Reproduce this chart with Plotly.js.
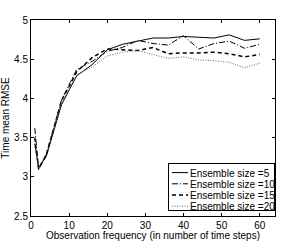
<!DOCTYPE html>
<html>
<head>
<meta charset="utf-8">
<script src="https://cdn.plot.ly/plotly-3.0.1.min.js"></script>
<style>html,body{margin:0;padding:0;background:#fff;}#chart{width:283px;height:241px;}</style>
</head>
<body>
<div id="chart"></div>
<script>
const obsFreq = [1, 2, 4, 8, 12, 16, 20, 24, 28, 32, 36, 40, 44, 48, 52, 56, 60];
const ens5  = [3.42, 3.12, 3.26, 3.92, 4.29, 4.43, 4.62, 4.69, 4.73, 4.77, 4.77, 4.79, 4.78, 4.77, 4.81, 4.74, 4.76];
const ens10 = [3.62, 3.09, 3.28, 3.98, 4.37, 4.47, 4.60, 4.65, 4.74, 4.70, 4.68, 4.80, 4.63, 4.70, 4.73, 4.64, 4.69];
const ens15 = [3.50, 3.10, 3.28, 3.97, 4.34, 4.52, 4.63, 4.62, 4.61, 4.65, 4.57, 4.58, 4.58, 4.59, 4.57, 4.53, 4.56];
const ens20 = [3.38, 3.12, 3.30, 3.95, 4.30, 4.40, 4.54, 4.59, 4.61, 4.56, 4.51, 4.53, 4.49, 4.48, 4.46, 4.39, 4.45];
const seriesNames = ['Ensemble size =5', 'Ensemble size =10', 'Ensemble size =15', 'Ensemble size =20'];
const xTicks = [0, 10, 20, 30, 40, 50, 60];
const yTicks = [2.5, 3, 3.5, 4, 4.5, 5];
const yTickText = ['2.5', '3', '3.5', '4', '4.5', '5'];

const font = {family: 'Liberation Sans, Arial, sans-serif', size: 10, color: '#000'};
const styles = [
  {color: '#000', width: 1, dash: 'solid'},
  {color: '#000', width: 1, dash: '6px,2px,1px,2px'},
  {color: '#000', width: 1.5, dash: '4px,3px'},
  {color: '#666', width: 1, dash: '1px,1.5px'}
];
const ys = [ens5, ens10, ens15, ens20];
const traces = ys.map((y, i) => ({
  x: obsFreq, y: y, name: seriesNames[i], type: 'scatter', mode: 'lines',
  line: styles[i]
}));

const layout = {
  width: 283, height: 241,
  margin: {l: 31, r: 8, t: 20, b: 25},
  paper_bgcolor: '#fff', plot_bgcolor: '#fff',
  font: font,
  showlegend: true,
  legend: {
    x: 1, xanchor: 'right', y: 0, yanchor: 'bottom',
    bgcolor: '#fff', bordercolor: '#000', borderwidth: 1,
    font: {family: font.family, size: 10, color: '#000'},
    tracegroupgap: 0
  },
  xaxis: {
    range: [0, 64], tickvals: xTicks, ticktext: xTicks.map(String),
    ticks: 'inside', ticklen: 3, tickcolor: '#000',
    showline: true, linecolor: '#000', linewidth: 1, mirror: 'ticks',
    showgrid: false, zeroline: false,
    title: {text: 'Observation frequency (in number of time steps)', font: font, standoff: 1}
  },
  yaxis: {
    range: [2.5, 5], tickvals: yTicks, ticktext: yTickText,
    ticks: 'inside', ticklen: 3, tickcolor: '#000',
    showline: true, linecolor: '#000', linewidth: 1, mirror: 'ticks',
    showgrid: false, zeroline: false,
    title: {text: 'Time mean RMSE', font: font, standoff: 4}
  }
};

// Compact the native legend (MATLAB-style tight entries)
function compactLegend(gd) {
  const leg = gd.querySelector('g.legend');
  if (!leg) return;
  const W = 107, H = 48, spacing = 11.2, firstY = 9.6;
  const fl = gd._fullLayout;
  const right = fl._size.l + fl._size.w;
  const bottom = fl._size.t + fl._size.h;
  leg.setAttribute('transform', 'translate(' + (right - W) + ',' + (bottom - 5 - H) + ')');
  const bg = leg.querySelector('rect.bg');
  if (bg) { bg.setAttribute('x', 0.5); bg.setAttribute('y', 0.5); bg.setAttribute('width', W - 1); bg.setAttribute('height', H - 1); }
  const sb = leg.querySelector('g.scrollbox');
  if (sb) { sb.setAttribute('transform', 'translate(0,0)'); sb.removeAttribute('clip-path'); }
  const items = leg.querySelectorAll('g.traces');
  items.forEach((it, i) => {
    it.setAttribute('transform', 'translate(0,' + (firstY + i * spacing) + ')');
    it.querySelectorAll('g.legendlines path').forEach(p => p.setAttribute('d', 'M4,0h16'));
    const t = it.querySelector('text.legendtext');
    if (t) {
      t.setAttribute('x', 22);
      t.querySelectorAll('tspan').forEach(ts => { if (ts.hasAttribute('x')) ts.setAttribute('x', 22); });
    }
  });
}

Plotly.newPlot('chart', traces, layout, {staticPlot: true, displayModeBar: false})
  .then(gd => compactLegend(gd));
</script>
</body>
</html>
